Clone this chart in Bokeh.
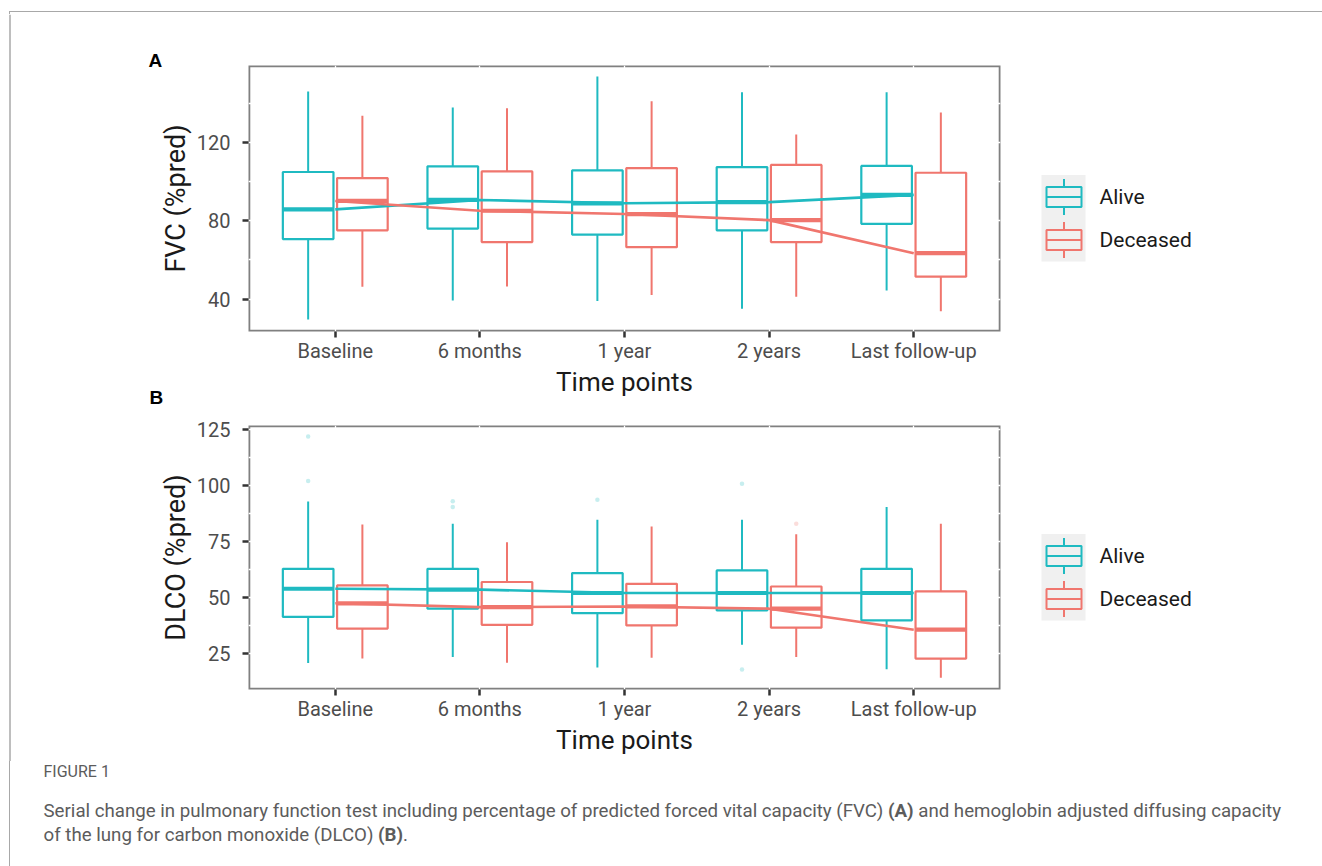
import numpy as np
from bokeh.plotting import figure
from bokeh.models import Range1d, FixedTicker, Div, BoxAnnotation
from bokeh.layouts import column, row
from bokeh.embed import file_html
from bokeh.resources import INLINE
from bokeh.core.properties import value

# ---------------- data ----------------
categories = ["Baseline", "6 months", "1 year", "2 years", "Last follow-up"]
groups = ["Alive", "Deceased"]

# Panel A: FVC (%pred) box statistics
fvc_alive_lower = [29.5, 39.3, 39.0, 35.0, 44.3]
fvc_alive_q1 = [70.6, 76.0, 72.9, 75.1, 78.4]
fvc_alive_med = [85.8, 90.6, 88.9, 89.5, 93.2]
fvc_alive_q3 = [104.9, 107.8, 105.7, 107.4, 108.0]
fvc_alive_upper = [146.0, 137.9, 153.7, 145.6, 145.6]

fvc_dec_lower = [46.2, 46.4, 42.1, 41.2, 33.8]
fvc_dec_q1 = [75.1, 69.1, 66.5, 69.1, 51.4]
fvc_dec_med = [90.1, 85.1, 83.4, 80.3, 63.4]
fvc_dec_q3 = [101.8, 105.2, 106.9, 108.5, 104.5]
fvc_dec_upper = [133.6, 137.5, 141.0, 124.0, 135.3]

# Panel B: DLCO (%pred) box statistics
dlco_alive_lower = [20.8, 23.5, 18.8, 29.0, 18.0]
dlco_alive_q1 = [41.4, 45.1, 43.1, 44.3, 39.9]
dlco_alive_med = [54.0, 53.6, 52.1, 52.1, 52.1]
dlco_alive_q3 = [62.9, 62.9, 61.0, 62.2, 62.9]
dlco_alive_upper = [93.0, 83.0, 84.8, 84.8, 90.5]

dlco_dec_lower = [22.8, 21.0, 23.2, 23.5, 14.3]
dlco_dec_q1 = [36.2, 37.9, 37.6, 36.6, 22.8]
dlco_dec_med = [47.5, 45.8, 46.1, 45.1, 35.7]
dlco_dec_q3 = [55.5, 57.0, 56.2, 55.0, 52.8]
dlco_dec_upper = [82.7, 74.8, 81.8, 78.3, 83.0]

# DLCO outliers (category index, value)
dlco_alive_out_cat = [0, 0, 1, 1, 2, 3, 3]
dlco_alive_out_val = [122.0, 102.1, 93.1, 90.5, 93.7, 100.9, 17.9]
dlco_dec_out_cat = [3]
dlco_dec_out_val = [83.0]

fvc_yticks = [40, 80, 120]
fvc_yminor = [60, 100, 140]
dlco_yticks = [25, 50, 75, 100, 125]
dlco_yminor = [37.5, 62.5, 87.5, 112.5]
panel_letters = ["A", "B"]
y_titles = ["FVC (%pred)", "DLCO (%pred)"]

# ---------------- style ----------------
ALIVE = "#1FBAC1"
DEC = "#F0766E"
FONT = "Roboto"
TICK_COL = "#4d4d4d"
BORDER_COL = "#808080"
PAGE_LINE = "#a8a8a8"
DODGE = 0.1875
BOXW = 0.35

LEFT_W = 193          # strip holding the panel letters and y titles
PLOT_W = 1030 - LEFT_W
LEG_W = 290
TOP_PAD = 14

xpos = np.arange(1, len(categories) + 1, dtype=float)


def draw_group(p, offset, color, lower, q1, med, q3, upper):
    x = xpos + offset
    p.segment(x0=x, y0=np.array(q3), x1=x, y1=np.array(upper), line_color=color, line_width=2)
    p.segment(x0=x, y0=np.array(lower), x1=x, y1=np.array(q1), line_color=color, line_width=2)
    p.vbar(x=x, width=BOXW, bottom=q1, top=q3, fill_color="white",
           line_color=color, line_width=2.2)
    p.segment(x0=x - BOXW / 2, y0=np.array(med), x1=x + BOXW / 2, y1=np.array(med),
              line_color=color, line_width=4.2)


def make_panel(yr, yticks, yminor, alive, dec, height, btop, bbottom, outliers=None):
    p = figure(width=PLOT_W, height=height, output_backend="svg", toolbar_location=None,
               x_range=Range1d(0.4, 5.6), y_range=Range1d(*yr),
               min_border_left=248 - LEFT_W, min_border_right=30,
               min_border_top=btop, min_border_bottom=bbottom,
               background_fill_color="white", border_fill_color="white")
    # panel border drawn under the (white) grid lines, as in the original
    p.outline_line_color = None
    border = BoxAnnotation(level="underlay", fill_color=None, fill_alpha=0,
                           line_color=BORDER_COL, line_alpha=1.0, line_width=3.6)
    p.center = [border] + list(p.center)
    p.xgrid.grid_line_color = "white"
    p.xgrid.grid_line_width = 1.3
    p.ygrid.grid_line_color = "white"
    p.ygrid.grid_line_width = 1.3
    p.ygrid.minor_grid_line_color = "white"
    p.ygrid.minor_grid_line_width = 1.3

    for ax in (p.xaxis[0], p.yaxis[0]):
        ax.axis_line_color = None
        ax.major_tick_line_color = "#333333"
        ax.major_tick_line_width = 2.5
        ax.major_tick_out = 6
        ax.major_tick_in = 0
        ax.minor_tick_line_color = None
        ax.major_label_text_font = FONT
        ax.major_label_text_font_size = "20px"
        ax.major_label_text_color = TICK_COL
        ax.axis_label_text_font = FONT
        ax.axis_label_text_font_style = "normal"
        ax.axis_label_text_color = "#1a1a1a"

    p.xaxis.ticker = FixedTicker(ticks=list(xpos))
    p.xaxis.major_label_overrides = {float(i): c for i, c in zip(xpos, categories)}
    p.xaxis.axis_label = "Time points"
    p.xaxis.axis_label_text_font_size = "26px"
    p.xaxis.major_label_standoff = 1
    p.xaxis.axis_label_standoff = 1
    p.yaxis.ticker = FixedTicker(ticks=yticks, minor_ticks=yminor)
    p.yaxis.major_label_standoff = 12

    draw_group(p, -DODGE, ALIVE, *alive)
    draw_group(p, DODGE, DEC, *dec)

    if outliers is not None:
        ac, av, dc, dv = outliers
        p.scatter(x=xpos[ac] - DODGE, y=av, size=4.5, fill_color=ALIVE, fill_alpha=0.25,
                  line_color=None)
        p.scatter(x=xpos[dc] + DODGE, y=dv, size=4.5, fill_color=DEC, fill_alpha=0.25,
                  line_color=None)

    # median trend lines through category centres
    p.line(x=xpos, y=alive[2], line_color=ALIVE, line_width=2.6)
    p.line(x=xpos, y=dec[2], line_color=DEC, line_width=2.6)
    return p


# page layout (px): row A 14..405 (frame 65..331), row B 405..761 (frame 425..689)
pA = make_panel((23.4, 159.3), fvc_yticks, fvc_yminor,
                (fvc_alive_lower, fvc_alive_q1, fvc_alive_med, fvc_alive_q3, fvc_alive_upper),
                (fvc_dec_lower, fvc_dec_q1, fvc_dec_med, fvc_dec_q3, fvc_dec_upper),
                height=405 - TOP_PAD, btop=65 - TOP_PAD, bbottom=405 - 331)

pB = make_panel((9.0, 126.9), dlco_yticks, dlco_yminor,
                (dlco_alive_lower, dlco_alive_q1, dlco_alive_med, dlco_alive_q3, dlco_alive_upper),
                (dlco_dec_lower, dlco_dec_q1, dlco_dec_med, dlco_dec_q3, dlco_dec_upper),
                height=761 - 405, btop=425 - 405, bbottom=761 - 689,
                outliers=(dlco_alive_out_cat, dlco_alive_out_val, dlco_dec_out_cat, dlco_dec_out_val))


def make_legend(top, bottom, ftop, fbot, key_centres):
    # legend strip; its ranges are expressed in page pixels
    lg = figure(width=LEG_W, height=bottom - top, output_backend="svg", toolbar_location=None,
                x_range=Range1d(1030, 1030 + LEG_W), y_range=Range1d(fbot, ftop),
                min_border_left=0, min_border_right=0,
                min_border_top=ftop - top, min_border_bottom=bottom - fbot,
                border_fill_color="white", background_fill_color="white")
    lg.outline_line_color = None
    lg.axis.visible = False
    lg.grid.grid_line_color = None
    cy = np.array(key_centres)
    cols = [ALIVE, DEC]
    lg.quad(left=1041, right=1085, top=cy[0] - 22, bottom=cy[1] + 21.5, fill_color="#F0F0F0",
            line_color=None)
    cx = 1063.5
    lg.segment(x0=[cx, cx], y0=cy - 18, x1=[cx, cx], y1=cy + 18, line_color=cols, line_width=2)
    lg.quad(left=cx - 17.5, right=cx + 17.5, top=cy - 10, bottom=cy + 10, fill_color="#F0F0F0",
            line_color=cols, line_width=2)
    lg.segment(x0=[cx - 17.5] * 2, y0=cy, x1=[cx + 17.5] * 2, y1=cy, line_color=cols, line_width=2)
    lg.text(x=[1099, 1099], y=cy, text=groups, text_font=value(FONT), text_font_size="21px",
            text_color="#1a1a1a", text_baseline="middle", text_align="left")
    return lg


legA = make_legend(TOP_PAD, 405, 65, 331, [196.5, 239.5])
legB = make_legend(405, 761, 425, 689, [555.5, 598.5])

# left strip: panel letters, y-axis titles and the page frame line (page pixel ranges)
left = figure(width=LEFT_W, height=761 - TOP_PAD, output_backend="svg", toolbar_location=None,
              x_range=Range1d(0, LEFT_W), y_range=Range1d(761, TOP_PAD), min_border=0,
              border_fill_color="white", background_fill_color="white")
left.outline_line_color = None
left.axis.visible = False
left.grid.grid_line_color = None
left.segment(x0=[9.5], y0=[TOP_PAD], x1=[9.5], y1=[761], line_color=PAGE_LINE, line_width=1.5)
left.text(x=[148, 149], y=[60, 396.5], text=panel_letters,
          text_font=value("Liberation Sans"), text_font_style="bold", text_font_size="19px",
          text_color="black", text_baseline="middle", text_align="left")
left.text(x=[175, 175], y=[198, 557], text=y_titles, angle=np.pi / 2,
          text_font=value(FONT), text_font_size="27px", text_color="#1a1a1a",
          text_baseline="middle", text_align="center")

top_line = Div(
    text=('<div style="padding-top:11px; padding-left:9px; margin:0;">'
          '<div style="width:1313px; height:3px; border-top:1.5px solid %s; '
          'border-left:1.5px solid %s;"></div></div>' % (PAGE_LINE, PAGE_LINE)),
    width=1320, height=TOP_PAD, margin=0,
)

caption = Div(
    text=(
        '<div style="padding-left:9px; margin:0;">'
        '<div style="border-left:1.5px solid %s; height:105px; padding-left:33.5px; '
        'padding-top:2px; font-family: Roboto, sans-serif; color:#5c5c5c;">'
        '<div style="font-size:16px; line-height:18px;">FIGURE 1</div>'
        '<div style="font-size:18.7px; line-height:24px; padding-top:18px; white-space:nowrap;">'
        'Serial change in pulmonary function test including percentage of predicted forced '
        'vital capacity (FVC) <b>(A)</b> and hemoglobin adjusted diffusing capacity<br>'
        'of the lung for carbon monoxide (DLCO) <b>(B)</b>.</div></div></div>' % PAGE_LINE
    ),
    width=1320, height=104, margin=0,
)

body = row(left, column(row(pA, legA), row(pB, legB), spacing=0), spacing=0)
layout = column(top_line, body, caption, spacing=0)
open("out.html", "w").write(file_html(layout, INLINE))
